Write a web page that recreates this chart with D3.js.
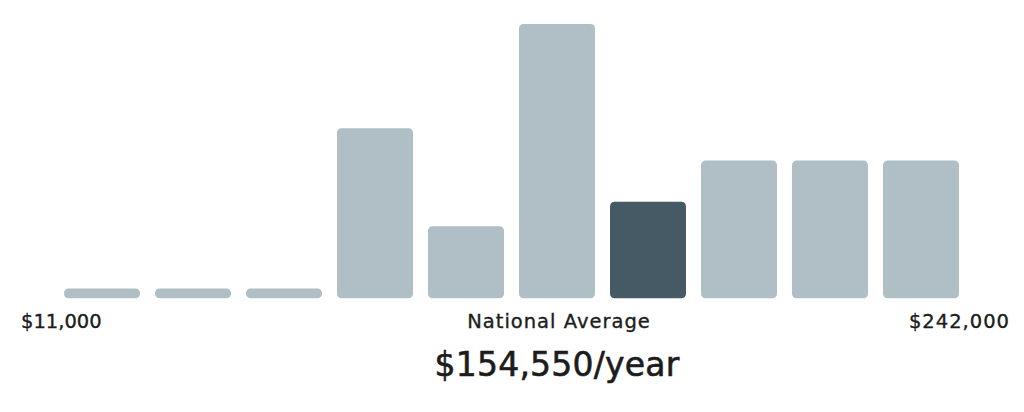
<!DOCTYPE html>
<html>
<head>
<meta charset="utf-8">
<script src="https://cdn.jsdelivr.net/npm/d3@7"></script>
<style>
  html, body { margin: 0; padding: 0; background: #fff; }
  svg { display: block; }
  text { font-family: "DejaVu Sans", sans-serif; fill: #1c1c1c; stroke: #1c1c1c; stroke-width: 0.35px; }
</style>
</head>
<body>
<svg id="chart" width="1024" height="412"></svg>
<script>
// Data (relative bar heights, max = 100)
const bins = ["b1","b2","b3","b4","b5","b6","b7","b8","b9","b10"];
const values = [3.6, 3.6, 3.6, 62, 26.3, 100, 35.2, 50.2, 50.2, 50.2];
const highlightIndex = 6;
const minLabel = "$11,000";
const maxLabel = "$242,000";
const avgTitle = "National Average";
const avgValue = "$154,550/year";

const svg = d3.select("#chart");

const x = d3.scaleBand()
  .domain(bins)
  .range([64, 959])
  .paddingInner(0.165)
  .paddingOuter(0);

const y = d3.scaleLinear()
  .domain([0, 100])
  .range([298.3, 24]);

svg.append("g")
  .selectAll("rect")
  .data(values)
  .join("rect")
  .attr("x", (d, i) => x(bins[i]))
  .attr("y", d => y(d))
  .attr("width", x.bandwidth())
  .attr("height", d => y(0) - y(d))
  .attr("rx", 4.5)
  .attr("ry", 4.5)
  .attr("fill", (d, i) => i === highlightIndex ? "#455a64" : "#b0bec5");

const centerX = x(bins[5]) + x.bandwidth() / 2;

svg.append("text")
  .attr("x", 21).attr("y", 328)
  .attr("font-size", 19.5)
  .attr("text-anchor", "start")
  .text(minLabel);

svg.append("text")
  .attr("x", 1010).attr("y", 328)
  .attr("font-size", 19.5)
  .attr("letter-spacing", 1)
  .attr("text-anchor", "end")
  .text(maxLabel);

svg.append("text")
  .attr("x", centerX + 2).attr("y", 328)
  .attr("font-size", 19.5)
  .attr("letter-spacing", 1)
  .attr("text-anchor", "middle")
  .text(avgTitle);

svg.append("text")
  .attr("x", centerX).attr("y", 376)
  .attr("font-size", 33)
  .attr("letter-spacing", 0.2)
  .attr("text-anchor", "middle")
  .style("stroke-width", "0.6px")
  .text(avgValue);
</script>
</body>
</html>
